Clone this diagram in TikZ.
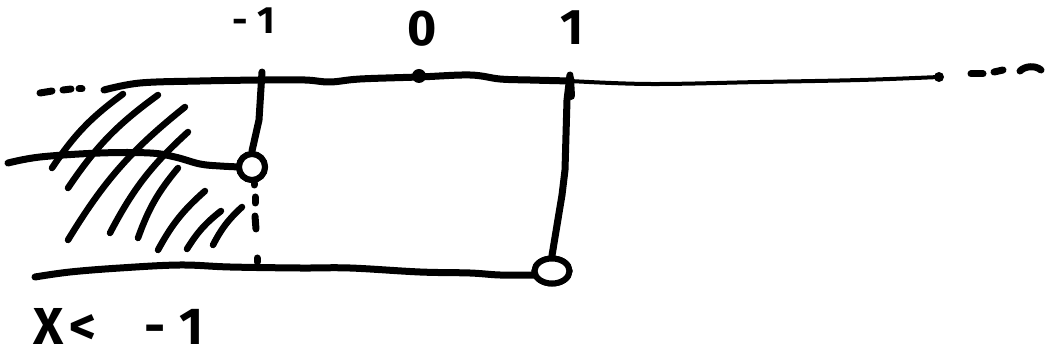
\documentclass[tikz,border=0pt]{standalone}
\usepackage{fontspec}
\setmainfont{Fira Sans}
\usetikzlibrary{shapes.geometric}
\tikzset{
  ink/.style={line width=7pt, line cap=round, line join=round},
  thinink/.style={line width=4pt, line cap=round, line join=round},
  hatch/.style={line width=6.5pt, line cap=round},
  opencirc/.style={circle, draw, fill=white, line width=6pt, minimum size=26pt, inner sep=0pt},
  openell/.style={ellipse, draw, fill=white, line width=6pt, minimum width=35pt, minimum height=25pt, inner sep=0pt},
  dotnode/.style={circle, fill, inner sep=0pt, minimum size=#1},
  lbl/.style={font=\bfseries, inner sep=0pt}
}
\begin{document}
\begin{tikzpicture}[x=1pt,y=-1pt]
\useasboundingbox (0,0) rectangle (1050,363);

% hatching
\foreach \ax/\ay/\bx/\by in {52/168/123/94, 68/188/158/95, 68/240/185/107,
  110/233/188/132, 138/238/178/168, 158/250/205/191,
  187/249/221/211, 213/245/242/207}
  \draw[hatch] (\ax,\ay) to[bend left=10] (\bx,\by);

% named points
\coordinate (tm1) at (262,72);
\coordinate (t1) at (570,75);
\node[dotnode=14pt] (d0) at (419,76) {};
\node[dotnode=10pt] (dend) at (939,77) {};
\node[opencirc] (cm1) at (252,167) {};
\node[openell] (c1) at (552,271) {};

% top line
\draw[ink] plot[smooth, tension=0.6] coordinates {(104,90) (140,83) (200,81) (262,80) (305,80) (330,82) (360,79) (419,77) (470,75) (500,79) (530,80) (570,81)};
\draw[thinink] plot[smooth, tension=0.6] coordinates {(570,81) (650,84) (760,82) (860,80) (939,77)};

% left dots
\draw[ink] (40,93) -- (52,91);
\draw[ink] (63,90) -- (71,89);
\draw[ink] (79,89) -- (82,89);
% right dots
\draw[ink] (971,74) -- (983,74);
\draw[ink] (994,72) -- (1003,70);
\draw[ink] (1020,71) .. controls (1025,66) and (1035,65) .. (1041,70);

% middle line
\draw[ink] plot[smooth, tension=0.6] coordinates {(8,163) (40,157) (100,153) (150,153) (175,157) (200,164) (220,166) (240,167)};
% bottom line
\draw[ink] plot[smooth, tension=0.6] coordinates {(35,277) (70,272) (120,268) (180,265) (230,267) (300,268) (350,268) (420,272) (470,273) (500,275) (535,275)};
\node[opencirc] at (cm1) {};
\node[openell] at (c1) {};

% verticals
\draw[ink] (tm1) -- (259,120) -- (cm1.north);
\draw[ink] (t1) -- (567,100) -- (565,170) -- (562,195) -- (c1.north);
\draw[line width=8pt, line cap=round] (570,78) -- (571,96);

% dotted continuation
\draw[ink] (254,183) -- (254,185);
\draw[ink] (255,197) -- (255,203);
\draw[ink] (255,216) -- (256,229);
\draw[ink] (257,258) -- (257,262);

% labels
\node[lbl, font=\bfseries\fontsize{38}{38}\selectfont, anchor=base] (lm1) at (254,34) {-\hspace{10pt}1};
\node[lbl, font=\bfseries\fontsize{50}{50}\selectfont, anchor=base] (l0) at (422,46) {0};
\node[lbl, font=\bfseries\fontsize{50}{50}\selectfont, anchor=base] (l1) at (572,45) {1};
\node[lbl, font=\bfseries\fontsize{52}{52}\selectfont, anchor=base west] (lx) at (33,345) {X\hspace{6pt}<\hspace{48pt}-\hspace{14pt}1};
\end{tikzpicture}
\end{document}
